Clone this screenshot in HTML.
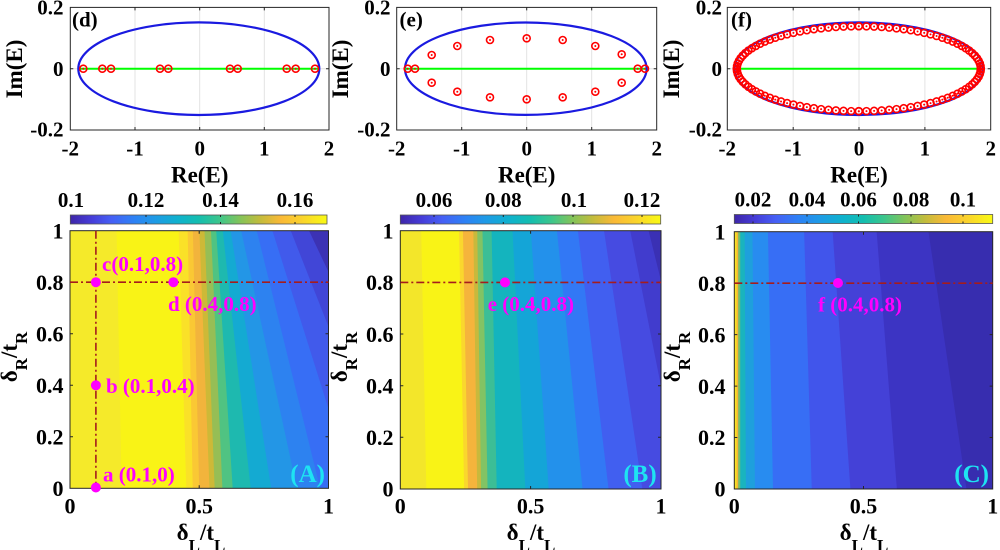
<!DOCTYPE html>
<html><head><meta charset="utf-8"><style>
html,body{margin:0;padding:0;background:#fff;}
svg{display:block;}
text{font-family:"Liberation Serif","DejaVu Serif",serif;font-weight:bold;fill:#000;}
</style></head><body>
<svg width="1000" height="550" viewBox="0 0 1000 550" xmlns="http://www.w3.org/2000/svg">
<defs>
<linearGradient id="par" x1="0" y1="0" x2="1" y2="0">
<stop offset="0" stop-color="#3e26a8"/><stop offset="0.08" stop-color="#463cd7"/><stop offset="0.16" stop-color="#465ff5"/><stop offset="0.25" stop-color="#2d82f5"/><stop offset="0.33" stop-color="#1e9be6"/><stop offset="0.42" stop-color="#0fb2cd"/><stop offset="0.5" stop-color="#14beaf"/><stop offset="0.58" stop-color="#3cc68c"/><stop offset="0.66" stop-color="#82c45a"/><stop offset="0.74" stop-color="#c3bc3c"/><stop offset="0.82" stop-color="#fab937"/><stop offset="0.9" stop-color="#fad22d"/><stop offset="1" stop-color="#f9fa14"/>
</linearGradient>
<clipPath id="cA"><rect x="70" y="230.7" width="258.5" height="257.6"/></clipPath>
<clipPath id="cB"><rect x="400.3" y="230.7" width="260.7" height="258.3"/></clipPath>
<clipPath id="cC"><rect x="734.3" y="231.7" width="258.4" height="257.3"/></clipPath>
<g id="mk"><circle r="3.5" fill="none" stroke="#ff0000" stroke-width="1.6"/><circle r="1" fill="#ff0000"/></g>
<g id="q">
<use href="#mk" x="122" y="0"/><use href="#mk" x="121.76" y="-2.67"/><use href="#mk" x="121.04" y="-5.33"/><use href="#mk" x="119.84" y="-7.96"/><use href="#mk" x="118.17" y="-10.57"/><use href="#mk" x="116.03" y="-13.13"/><use href="#mk" x="113.43" y="-15.65"/><use href="#mk" x="110.39" y="-18.10"/><use href="#mk" x="106.91" y="-20.47"/><use href="#mk" x="103.01" y="-22.77"/><use href="#mk" x="98.70" y="-24.98"/><use href="#mk" x="94.00" y="-27.09"/><use href="#mk" x="88.93" y="-29.09"/><use href="#mk" x="83.52" y="-30.98"/><use href="#mk" x="77.77" y="-32.75"/><use href="#mk" x="71.71" y="-34.38"/><use href="#mk" x="65.37" y="-35.88"/><use href="#mk" x="58.77" y="-37.24"/><use href="#mk" x="51.95" y="-38.46"/><use href="#mk" x="44.91" y="-39.52"/><use href="#mk" x="37.70" y="-40.42"/><use href="#mk" x="30.34" y="-41.16"/><use href="#mk" x="22.86" y="-41.75"/><use href="#mk" x="15.29" y="-42.16"/><use href="#mk" x="7.66" y="-42.42"/><use href="#mk" x="0" y="-42.5"/>
</g>
</defs>

<!-- ================= TOP PANEL (d) ================= -->
<g>
<line x1="135" y1="7.4" x2="135" y2="130" stroke="#e3e3e3" stroke-width="1"/>
<line x1="199.7" y1="7.4" x2="199.7" y2="130" stroke="#e3e3e3" stroke-width="1"/>
<line x1="264.3" y1="7.4" x2="264.3" y2="130" stroke="#e3e3e3" stroke-width="1"/>
<line x1="70.3" y1="68.7" x2="329" y2="68.7" stroke="#e3e3e3" stroke-width="1"/>
<rect x="70.3" y="7.4" width="258.7" height="122.6" fill="none" stroke="#262626" stroke-width="1"/>
<path d="M135 130v-3M199.7 130v-3M264.3 130v-3M135 7.4v3M199.7 7.4v3M264.3 7.4v3M70.3 68.7h3M329 68.7h-3" stroke="#262626" stroke-width="1"/>
<ellipse cx="198.8" cy="68.7" rx="120.5" ry="46.3" fill="none" stroke="#1a1ae0" stroke-width="2.2"/>
<line x1="80" y1="68.7" x2="318" y2="68.7" stroke="#00ff00" stroke-width="2"/>
<use href="#mk" x="83.3" y="68.7"/><use href="#mk" x="102.3" y="68.7"/><use href="#mk" x="111" y="68.7"/><use href="#mk" x="160" y="68.7"/><use href="#mk" x="168.3" y="68.7"/><use href="#mk" x="230" y="68.7"/><use href="#mk" x="237.7" y="68.7"/><use href="#mk" x="286.7" y="68.7"/><use href="#mk" x="295.7" y="68.7"/><use href="#mk" x="315" y="68.7"/>
<text x="72" y="26.5" font-size="21">(d)</text>
<g font-size="21" text-anchor="end"><text x="63.5" y="14.5">0.2</text><text x="63.5" y="75.8">0</text><text x="63.5" y="136.5">-0.2</text></g>
<g font-size="21" text-anchor="middle"><text x="70.3" y="155.5">-2</text><text x="135" y="155.5">-1</text><text x="199.7" y="155.5">0</text><text x="264.3" y="155.5">1</text><text x="329" y="155.5">2</text></g>
<text x="199.7" y="182.5" font-size="23" text-anchor="middle">Re(E)</text>
<text transform="translate(22,69) rotate(-90)" font-size="23" text-anchor="middle">Im(E)</text>
</g>

<!-- ================= TOP PANEL (e) ================= -->
<g>
<line x1="461.7" y1="7.4" x2="461.7" y2="130" stroke="#e3e3e3" stroke-width="1"/>
<line x1="526.7" y1="7.4" x2="526.7" y2="130" stroke="#e3e3e3" stroke-width="1"/>
<line x1="591.7" y1="7.4" x2="591.7" y2="130" stroke="#e3e3e3" stroke-width="1"/>
<line x1="396.7" y1="68.7" x2="656.7" y2="68.7" stroke="#e3e3e3" stroke-width="1"/>
<rect x="396.7" y="7.4" width="260" height="122.6" fill="none" stroke="#262626" stroke-width="1"/>
<path d="M461.7 130v-3M526.7 130v-3M591.7 130v-3M461.7 7.4v3M526.7 7.4v3M591.7 7.4v3M396.7 68.7h3M656.7 68.7h-3" stroke="#262626" stroke-width="1"/>
<ellipse cx="525.8" cy="68.7" rx="120.8" ry="46.2" fill="none" stroke="#1a1ae0" stroke-width="2.2"/>
<line x1="405" y1="68.7" x2="646" y2="68.7" stroke="#00ff00" stroke-width="2"/>
<use href="#mk" x="407.7" y="68.7"/><use href="#mk" x="415" y="68.7"/><use href="#mk" x="637.7" y="68.7"/><use href="#mk" x="645" y="68.7"/>
<use href="#mk" x="431.7" y="55"/><use href="#mk" x="457.3" y="46"/><use href="#mk" x="490" y="40"/><use href="#mk" x="526.7" y="38.3"/><use href="#mk" x="562.7" y="40"/><use href="#mk" x="595.3" y="46"/><use href="#mk" x="621.7" y="54.3"/>
<use href="#mk" x="431.7" y="82.7"/><use href="#mk" x="457.3" y="91.7"/><use href="#mk" x="490" y="97.3"/><use href="#mk" x="526.7" y="99.3"/><use href="#mk" x="562.7" y="97.3"/><use href="#mk" x="595.3" y="91.7"/><use href="#mk" x="621.7" y="82.7"/>
<text x="399.5" y="26.5" font-size="21">(e)</text>
<g font-size="21" text-anchor="end"><text x="390.5" y="14.5">0.2</text><text x="390.5" y="75.8">0</text><text x="390.5" y="136.5">-0.2</text></g>
<g font-size="21" text-anchor="middle"><text x="396.7" y="155.5">-2</text><text x="461.7" y="155.5">-1</text><text x="526.7" y="155.5">0</text><text x="591.7" y="155.5">1</text><text x="656.7" y="155.5">2</text></g>
<text x="526.7" y="182.5" font-size="23" text-anchor="middle">Re(E)</text>
<text transform="translate(348,69) rotate(-90)" font-size="23" text-anchor="middle">Im(E)</text>
</g>

<!-- ================= TOP PANEL (f) ================= -->
<g>
<line x1="793.2" y1="7.4" x2="793.2" y2="130" stroke="#e3e3e3" stroke-width="1"/>
<line x1="859" y1="7.4" x2="859" y2="130" stroke="#e3e3e3" stroke-width="1"/>
<line x1="924.9" y1="7.4" x2="924.9" y2="130" stroke="#e3e3e3" stroke-width="1"/>
<line x1="727.3" y1="68.7" x2="990.7" y2="68.7" stroke="#e3e3e3" stroke-width="1"/>
<rect x="727.3" y="7.4" width="263.4" height="122.6" fill="none" stroke="#262626" stroke-width="1"/>
<path d="M793.2 130v-3M859 130v-3M924.9 130v-3M793.2 7.4v3M859 7.4v3M924.9 7.4v3M727.3 68.7h3M990.7 68.7h-3" stroke="#262626" stroke-width="1"/>
<ellipse cx="858.8" cy="68.7" rx="124.5" ry="46.2" fill="none" stroke="#1a1ae0" stroke-width="2.4"/>
<line x1="738" y1="68.7" x2="980" y2="68.7" stroke="#00ff00" stroke-width="2"/>
<use href="#q" transform="translate(858.8,68.7)"/>
<use href="#q" transform="translate(858.8,68.7) scale(-1,1)"/>
<use href="#q" transform="translate(858.8,68.7) scale(1,-1)"/>
<use href="#q" transform="translate(858.8,68.7) scale(-1,-1)"/>
<text x="731" y="26.5" font-size="21">(f)</text>
<g font-size="21" text-anchor="end"><text x="722" y="14.5">0.2</text><text x="722" y="75.8">0</text><text x="722" y="136.5">-0.2</text></g>
<g font-size="21" text-anchor="middle"><text x="727.3" y="155.5">-2</text><text x="793.2" y="155.5">-1</text><text x="859" y="155.5">0</text><text x="924.9" y="155.5">1</text><text x="990.7" y="155.5">2</text></g>
<text x="859" y="182.5" font-size="23" text-anchor="middle">Re(E)</text>
<text transform="translate(679,69) rotate(-90)" font-size="23" text-anchor="middle">Im(E)</text>
</g>

<!-- ================= COLORBARS ================= -->
<rect x="70.3" y="215" width="256.7" height="9" fill="url(#par)" stroke="#555" stroke-width="0.8"/>
<path d="M146 215v2M146 224v-2M220.5 215v2M220.5 224v-2M295 215v2M295 224v-2" stroke="#222" stroke-width="1"/>
<g font-size="21" text-anchor="middle"><text x="71" y="207">0.1</text><text x="146" y="207">0.12</text><text x="220.5" y="207">0.14</text><text x="295" y="207">0.16</text></g>

<rect x="400.3" y="215" width="260.4" height="9" fill="url(#par)" stroke="#555" stroke-width="0.8"/>
<path d="M434 215v2M434 224v-2M503.3 215v2M503.3 224v-2M573 215v2M573 224v-2M642 215v2M642 224v-2" stroke="#222" stroke-width="1"/>
<g font-size="21" text-anchor="middle"><text x="434" y="207">0.06</text><text x="503.3" y="207">0.08</text><text x="574" y="207">0.1</text><text x="642" y="207">0.12</text></g>

<rect x="734.3" y="214.5" width="258.4" height="9" fill="url(#par)" stroke="#555" stroke-width="0.8"/>
<path d="M753 214.5v2M753 223.5v-2M807 214.5v2M807 223.5v-2M858.5 214.5v2M858.5 223.5v-2M911 214.5v2M911 223.5v-2M963 214.5v2M963 223.5v-2" stroke="#222" stroke-width="1"/>
<g font-size="21" text-anchor="middle"><text x="753" y="206.5">0.02</text><text x="807" y="206.5">0.04</text><text x="858.5" y="206.5">0.06</text><text x="911" y="206.5">0.08</text><text x="963" y="206.5">0.1</text></g>

<!-- ================= HEATMAP A ================= -->
<g clip-path="url(#cA)">
<g transform="translate(70,488.3) scale(258.5,-257.6)">
<rect x="-0.1" y="-0.1" width="1.3" height="1.3" fill="#f5ea2a"/>
<polygon points="0.18,1.01 2,1.01 2,-0.01 0.2,-0.01" fill="#f9f316"/>
<polygon points="0.42,1.01 2,1.01 2,-0.01 0.45,-0.01" fill="#fae128"/>
<polygon points="0.455,1.01 2,1.01 2,-0.01 0.475,-0.01" fill="#fac834"/>
<polygon points="0.475,1.01 2,1.01 2,-0.01 0.5,-0.01" fill="#f2b43c"/>
<polygon points="0.5,1.01 2,1.01 2,-0.01 0.54,-0.01" fill="#cdb937"/>
<polygon points="0.52,1.01 2,1.01 2,-0.01 0.56,-0.01" fill="#96be55"/>
<polygon points="0.545,1.01 2,1.01 2,-0.01 0.59,-0.01" fill="#50c382"/>
<polygon points="0.565,1.01 2,1.01 2,-0.01 0.63,-0.01" fill="#1eb9af"/>
<polygon points="0.59,1.01 2,1.01 2,-0.01 0.7,-0.01" fill="#14aad2"/>
<polygon points="0.62,1.01 2,1.01 2,-0.01 0.78,-0.01" fill="#2396e6"/>
<polygon points="0.66,1.01 2,1.01 2,-0.01 0.88,-0.01" fill="#2d82f0"/>
<polygon points="0.72,1.01 2,1.01 2,-0.01 0.97,-0.01" fill="#376ef5"/>
<polygon points="0.78,1.01 2,1.01 2,-0.01 1.1,-0.01" fill="#415aeb"/>
<polygon points="0.85,1.01 2,1.01 2,-0.01 1.25,-0.01" fill="#4146d7"/>
<polygon points="0.92,1.01 2,1.01 2,-0.01 1.4,-0.01" fill="#3c32b4"/>
</g>
</g>
<rect x="70" y="230.7" width="258.5" height="257.6" fill="none" stroke="#262626" stroke-width="1"/>
<path d="M199.2 488.3v-3M199.2 230.7v3M70 436.8h3M70 385.3h3M70 333.7h3M70 282.2h3M328.5 436.8h-3M328.5 385.3h-3M328.5 333.7h-3M328.5 282.2h-3" stroke="#262626" stroke-width="1"/>
<line x1="70" y1="282.2" x2="328.5" y2="282.2" stroke="#a51c1c" stroke-width="1.6" stroke-dasharray="8,3,2,3"/>
<line x1="95.9" y1="230.7" x2="95.9" y2="488.3" stroke="#a51c1c" stroke-width="1.6" stroke-dasharray="8,3,2,3"/>
<g fill="#ff00ff"><circle cx="95.9" cy="282.2" r="5"/><circle cx="173.4" cy="282.2" r="5"/><circle cx="95.9" cy="385.3" r="5"/><circle cx="95.9" cy="487.5" r="5"/></g>
<g font-size="21">
<text x="102" y="271" style="fill:#ff00ff">c(0.1,0.8)</text>
<text x="168" y="311" style="fill:#ff00ff">d (0.4,0.8)</text>
<text x="106" y="393" style="fill:#ff00ff">b (0.1,0.4)</text>
<text x="103" y="481.5" style="fill:#ff00ff">a (0.1,0)</text>
</g>
<text x="325" y="482" font-size="25" text-anchor="end" style="fill:#1ee3f2">(A)</text>
<g font-size="22" text-anchor="end"><text x="63.5" y="238.7">1</text><text x="63.5" y="290">0.8</text><text x="63.5" y="341.5">0.6</text><text x="63.5" y="393">0.4</text><text x="63.5" y="444.5">0.2</text><text x="63.5" y="496">0</text></g>
<g font-size="22" text-anchor="middle"><text x="70" y="513.5">0</text><text x="199.2" y="513.5">0.5</text><text x="328.5" y="513.5">1</text></g>
<text x="201" y="540" font-size="23" text-anchor="middle">δ<tspan font-size="17" dy="11">L</tspan><tspan dy="-11">/t</tspan><tspan font-size="17" dy="11">L</tspan></text>
<text transform="translate(17,357) rotate(-90)" font-size="23" text-anchor="middle">δ<tspan font-size="17" dy="10">R</tspan><tspan dy="-10">/t</tspan><tspan font-size="17" dy="10">R</tspan></text>

<!-- ================= HEATMAP B ================= -->
<g clip-path="url(#cB)">
<g transform="translate(400.3,489) scale(260.7,-258.3)">
<rect x="-0.1" y="-0.1" width="1.3" height="1.3" fill="#f3e62a"/>
<polygon points="0.08,1.01 2,1.01 2,-0.01 0.1,-0.01" fill="#f9f316"/>
<polygon points="0.225,1.01 2,1.01 2,-0.01 0.245,-0.01" fill="#fad72d"/>
<polygon points="0.24,1.01 2,1.01 2,-0.01 0.26,-0.01" fill="#f5b43c"/>
<polygon points="0.28,1.01 2,1.01 2,-0.01 0.295,-0.01" fill="#c8b93c"/>
<polygon points="0.295,1.01 2,1.01 2,-0.01 0.31,-0.01" fill="#82c364"/>
<polygon points="0.315,1.01 2,1.01 2,-0.01 0.335,-0.01" fill="#3cbe96"/>
<polygon points="0.35,1.01 2,1.01 2,-0.01 0.37,-0.01" fill="#14b4be"/>
<polygon points="0.43,1.01 2,1.01 2,-0.01 0.48,-0.01" fill="#14a5d7"/>
<polygon points="0.5,1.01 2,1.01 2,-0.01 0.57,-0.01" fill="#2391eb"/>
<polygon points="0.6,1.01 2,1.01 2,-0.01 0.7,-0.01" fill="#3278f5"/>
<polygon points="0.68,1.01 2,1.01 2,-0.01 0.8,-0.01" fill="#415ff0"/>
<polygon points="0.78,1.01 2,1.01 2,-0.01 0.93,-0.01" fill="#464be1"/>
<polygon points="0.88,1.01 2,1.01 2,-0.01 1.08,-0.01" fill="#413ccd"/>
<polygon points="0.95,1.01 2,1.01 2,-0.01 1.2,-0.01" fill="#3a30b4"/>
</g>
</g>
<rect x="400.3" y="230.7" width="260.7" height="258.3" fill="none" stroke="#262626" stroke-width="1"/>
<path d="M530.6 489v-3M530.6 230.7v3M400.3 437.3h3M400.3 385.7h3M400.3 334h3M400.3 282.4h3M661 437.3h-3M661 385.7h-3M661 334h-3M661 282.4h-3" stroke="#262626" stroke-width="1"/>
<line x1="400.3" y1="282.4" x2="661" y2="282.4" stroke="#a51c1c" stroke-width="1.6" stroke-dasharray="8,3,2,3"/>
<circle cx="505" cy="282.4" r="5" fill="#ff00ff"/>
<text x="487.7" y="311" font-size="21" style="fill:#ff00ff">e (0.4,0.8)</text>
<text x="656.7" y="482" font-size="25" text-anchor="end" style="fill:#1ee3f2">(B)</text>
<g font-size="22" text-anchor="end"><text x="393.5" y="238.7">1</text><text x="393.5" y="290.2">0.8</text><text x="393.5" y="341.8">0.6</text><text x="393.5" y="393.4">0.4</text><text x="393.5" y="445">0.2</text><text x="393.5" y="496.6">0</text></g>
<g font-size="22" text-anchor="middle"><text x="400.3" y="513.5">0</text><text x="530.6" y="513.5">0.5</text><text x="661" y="513.5">1</text></g>
<text x="531" y="540" font-size="23" text-anchor="middle">δ<tspan font-size="17" dy="11">L</tspan><tspan dy="-11">/t</tspan><tspan font-size="17" dy="11">L</tspan></text>
<text transform="translate(347,357) rotate(-90)" font-size="23" text-anchor="middle">δ<tspan font-size="17" dy="10">R</tspan><tspan dy="-10">/t</tspan><tspan font-size="17" dy="10">R</tspan></text>

<!-- ================= HEATMAP C ================= -->
<g clip-path="url(#cC)">
<g transform="translate(734.3,489) scale(258.4,-257.3)">
<rect x="-0.1" y="-0.1" width="1.3" height="1.3" fill="#f8e123"/>
<polygon points="0.009,1.01 2,1.01 2,-0.01 0.009,-0.01" fill="#f5b437"/>
<polygon points="0.015,1.01 2,1.01 2,-0.01 0.015,-0.01" fill="#6ebe73"/>
<polygon points="0.023,1.01 2,1.01 2,-0.01 0.023,-0.01" fill="#19b4be"/>
<polygon points="0.04,1.01 2,1.01 2,-0.01 0.045,-0.01" fill="#1ea0dc"/>
<polygon points="0.07,1.01 2,1.01 2,-0.01 0.08,-0.01" fill="#288cf0"/>
<polygon points="0.13,1.01 2,1.01 2,-0.01 0.15,-0.01" fill="#376ef5"/>
<polygon points="0.27,1.01 2,1.01 2,-0.01 0.3,-0.01" fill="#4155eb"/>
<polygon points="0.38,1.01 2,1.01 2,-0.01 0.45,-0.01" fill="#4441d7"/>
<polygon points="0.55,1.01 2,1.01 2,-0.01 0.63,-0.01" fill="#3c34c3"/>
<polygon points="0.75,1.01 2,1.01 2,-0.01 0.9,-0.01" fill="#372daf"/>
</g>
</g>
<rect x="734.3" y="231.7" width="258.4" height="257.3" fill="none" stroke="#262626" stroke-width="1"/>
<path d="M863.5 489v-3M863.5 231.7v3M734.3 437.5h3M734.3 386.1h3M734.3 334.6h3M734.3 283.2h3M992.7 437.5h-3M992.7 386.1h-3M992.7 334.6h-3M992.7 283.2h-3" stroke="#262626" stroke-width="1"/>
<line x1="734.3" y1="283.2" x2="992.7" y2="283.2" stroke="#a51c1c" stroke-width="1.6" stroke-dasharray="8,3,2,3"/>
<circle cx="838" cy="283" r="5" fill="#ff00ff"/>
<text x="818" y="311.5" font-size="21" style="fill:#ff00ff">f (0.4,0.8)</text>
<text x="989" y="482" font-size="25" text-anchor="end" style="fill:#1ee3f2">(C)</text>
<g font-size="22" text-anchor="end"><text x="725.5" y="239.7">1</text><text x="725.5" y="291">0.8</text><text x="725.5" y="342.4">0.6</text><text x="725.5" y="393.8">0.4</text><text x="725.5" y="445.2">0.2</text><text x="725.5" y="496.7">0</text></g>
<g font-size="22" text-anchor="middle"><text x="734.3" y="513.5">0</text><text x="863.5" y="513.5">0.5</text><text x="992.7" y="513.5">1</text></g>
<text x="864" y="540" font-size="23" text-anchor="middle">δ<tspan font-size="17" dy="11">L</tspan><tspan dy="-11">/t</tspan><tspan font-size="17" dy="11">L</tspan></text>
<text transform="translate(680,357) rotate(-90)" font-size="23" text-anchor="middle">δ<tspan font-size="17" dy="10">R</tspan><tspan dy="-10">/t</tspan><tspan font-size="17" dy="10">R</tspan></text>
</svg>
</body></html>
